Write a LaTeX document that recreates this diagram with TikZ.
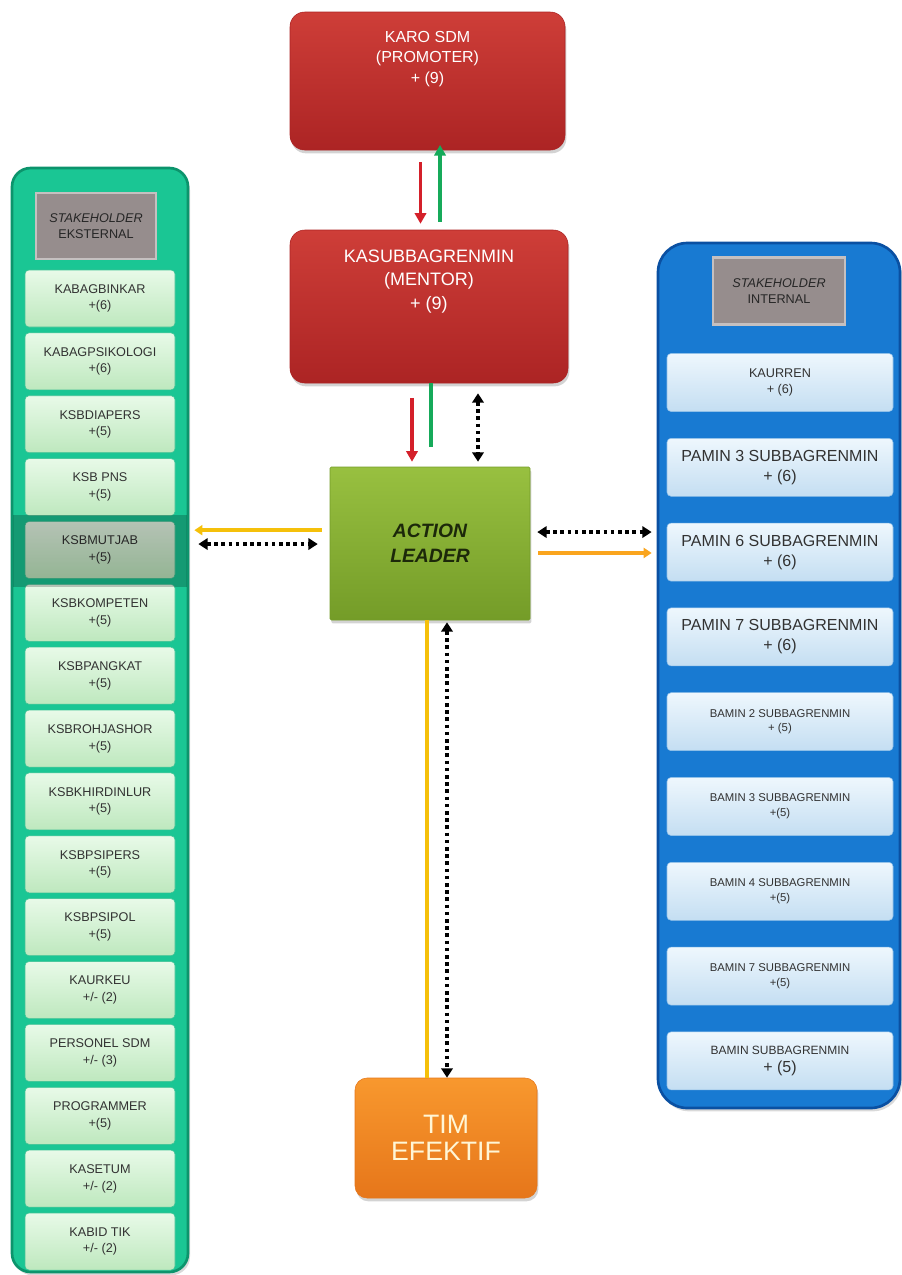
\documentclass[tikz,border=0pt]{standalone}
\usepackage{fontspec}
\setmainfont{Liberation Sans}
\usetikzlibrary{arrows.meta,positioning,calc,shadows}
\definecolor{boxred}{RGB}{206,62,56}
\definecolor{boxreddark}{RGB}{172,36,36}
\definecolor{leadgreen}{RGB}{152,192,64}
\definecolor{leadgreendark}{RGB}{116,156,40}
\definecolor{timorange}{RGB}{248,152,46}
\definecolor{timorangedark}{RGB}{230,118,26}
\definecolor{extteal}{RGB}{26,198,148}
\definecolor{exttealdark}{RGB}{12,148,108}
\definecolor{intblue}{RGB}{24,122,210}
\definecolor{intbluedark}{RGB}{10,80,162}
\definecolor{headgray}{RGB}{150,141,141}
\definecolor{extlight}{RGB}{232,250,232}
\definecolor{extmid}{RGB}{190,232,190}
\definecolor{intlight}{RGB}{238,247,253}
\definecolor{intmid}{RGB}{196,222,242}
\definecolor{arrred}{RGB}{212,32,42}
\definecolor{arrgreen}{RGB}{22,170,90}
\definecolor{arryellow}{RGB}{245,192,10}
\definecolor{arrorange}{RGB}{250,165,30}
\definecolor{inktext}{RGB}{50,50,50}

\tikzset{
  topbox/.style={rectangle,rounded corners=11pt,top color=boxred,bottom color=boxreddark,draw=boxreddark,
    drop shadow={opacity=0.35,shadow xshift=1pt,shadow yshift=-2.5pt}},
  toplabel/.style={anchor=north,align=center,text=white},
  leadbox/.style={rectangle,rounded corners=1pt,top color=leadgreen,bottom color=leadgreendark,draw=leadgreendark,
    minimum width=150pt,minimum height=114.75pt,align=center,text={rgb,255:red,28;green,40;blue,10},
    font=\fontsize{14.5}{19}\selectfont\bfseries\itshape,
    drop shadow={opacity=0.35,shadow xshift=1pt,shadow yshift=-2.5pt}},
  timbox/.style={rectangle,rounded corners=9pt,top color=timorange,bottom color=timorangedark,draw=timorangedark,
    minimum width=136.5pt,minimum height=90pt,align=center,text={rgb,255:red,255;green,246;blue,214},
    font=\fontsize{20}{20}\selectfont,
    drop shadow={opacity=0.35,shadow xshift=1pt,shadow yshift=-2.5pt}},
  extpanelbox/.style={rectangle,rounded corners=14pt,fill=extteal,draw=exttealdark,line width=2pt,
    minimum width=132pt,minimum height=828pt,
    drop shadow={opacity=0.3,shadow xshift=1.5pt,shadow yshift=-2.5pt}},
  intpanelbox/.style={rectangle,rounded corners=22pt,fill=intblue,draw=intbluedark,line width=2pt,
    minimum width=181.5pt,minimum height=648.75pt,
    drop shadow={opacity=0.3,shadow xshift=1.5pt,shadow yshift=-2.5pt}},
  headbox/.style={rectangle,fill=headgray,draw=headgray!55!white,line width=2pt,align=center,text=black!85,
    font=\fontsize{9.5}{12}\selectfont},
  extbox/.style={rectangle,rounded corners=3pt,top color=extlight,bottom color=extmid,draw=extmid!80!black!30!extteal,
    minimum width=112.5pt,minimum height=42.75pt,align=center,text=inktext,inner sep=1pt,
    font=\fontsize{9.5}{12.5}\selectfont},
  intbox/.style={rectangle,rounded corners=3pt,top color=intlight,bottom color=intmid,draw=intmid!70!intblue,
    minimum width=169.5pt,minimum height=43.5pt,align=center,text=inktext,inner sep=1pt,
    font=\fontsize{9.5}{12.5}\selectfont},
  pamin/.style={font=\fontsize{12}{15}\selectfont},
  bamin/.style={font=\fontsize{8.5}{11}\selectfont},
  redarrow/.style={arrred,line width=2.7pt,-{Triangle[length=8pt,width=8.5pt]}},
  greenarrow/.style={arrgreen,line width=2.7pt,-{Triangle[length=8pt,width=8.5pt]}},
  yelarrow/.style={arryellow,line width=2.6pt,-{Triangle[length=6pt,width=7.5pt]}},
  orgarrow/.style={arrorange,line width=2.6pt,-{Triangle[length=6pt,width=7.5pt]}},
  dotarrow/.style={black,line width=2.7pt,dash pattern=on 2.7pt off 2.7pt,
    {Triangle[length=7pt,width=8.5pt]}-{Triangle[length=7pt,width=8.5pt]}}
}

\begin{document}
\begin{tikzpicture}[x=0.75pt,y=-0.75pt]
\useasboundingbox (0,0) rectangle (901,1275);

% stakeholder eksternal
\node[extpanelbox] (extpanel) at (100,720) {};
\node[headbox,minimum width=90pt,minimum height=49.5pt] (exthead) at (96,226) {\textit{STAKEHOLDER}\\EKSTERNAL};
\node[extbox] (e1) at (100,298.5) {KABAGBINKAR\\+(6)};
\node[extbox,below=4pt of e1] (e2) {KABAGPSIKOLOGI\\+(6)};
\node[extbox,below=4pt of e2] (e3) {KSBDIAPERS\\+(5)};
\node[extbox,below=4pt of e3] (e4) {KSB PNS\\+(5)};
\node[extbox,below=4pt of e4] (e5) {KSBMUTJAB\\+(5)};
\node[extbox,below=4pt of e5] (e6) {KSBKOMPETEN\\+(5)};
\node[extbox,below=4pt of e6] (e7) {KSBPANGKAT\\+(5)};
\node[extbox,below=4pt of e7] (e8) {KSBROHJASHOR\\+(5)};
\node[extbox,below=4pt of e8] (e9) {KSBKHIRDINLUR\\+(5)};
\node[extbox,below=4pt of e9] (e10) {KSBPSIPERS\\+(5)};
\node[extbox,below=4pt of e10] (e11) {KSBPSIPOL\\+(5)};
\node[extbox,below=4pt of e11] (e12) {KAURKEU\\+/- (2)};
\node[extbox,below=4pt of e12] (e13) {PERSONEL SDM\\+/- (3)};
\node[extbox,below=4pt of e13] (e14) {PROGRAMMER\\+(5)};
\node[extbox,below=4pt of e14] (e15) {KASETUM\\+/- (2)};
\node[extbox,below=4pt of e15] (e16) {KABID TIK\\+/- (2)};
\fill[black,opacity=0.22] ($(e5.north west)+(-9pt,5pt)$) rectangle ($(e5.south east)+(9pt,-6pt)$);

% stakeholder internal
\node[intpanelbox] (intpanel) at (779,675.5) {};
\node[headbox,minimum width=99pt,minimum height=50.25pt] (inthead) at (779,291) {\textit{STAKEHOLDER}\\INTERNAL};
\node[intbox] (i1) at (780,382.5) {KAURREN\\+ (6)};
\node[intbox,pamin,below=19.7pt of i1] (i2) {PAMIN 3 SUBBAGRENMIN\\+ (6)};
\node[intbox,pamin,below=19.7pt of i2] (i3) {PAMIN 6 SUBBAGRENMIN\\+ (6)};
\node[intbox,pamin,below=19.7pt of i3] (i4) {PAMIN 7 SUBBAGRENMIN\\+ (6)};
\node[intbox,bamin,below=19.7pt of i4] (i5) {BAMIN 2 SUBBAGRENMIN\\+ (5)};
\node[intbox,bamin,below=19.7pt of i5] (i6) {BAMIN 3 SUBBAGRENMIN\\+(5)};
\node[intbox,bamin,below=19.7pt of i6] (i7) {BAMIN 4 SUBBAGRENMIN\\+(5)};
\node[intbox,bamin,below=19.7pt of i7] (i8) {BAMIN 7 SUBBAGRENMIN\\+(5)};
\node[intbox,font=\fontsize{9}{13}\selectfont,below=19.7pt of i8] (i9) {BAMIN SUBBAGRENMIN\\{\fontsize{12}{13}\selectfont + (5)}};

% centre column
\node[topbox,minimum width=206.25pt,minimum height=103.5pt,
  label={[toplabel,yshift=-11pt,font=\fontsize{12}{15.5}\selectfont]north:KARO SDM\\(PROMOTER)\\+ (9)}] (karo) at (427.5,81) {};
\node[topbox,minimum width=208.5pt,minimum height=114.75pt,
  label={[toplabel,yshift=-11.5pt,font=\fontsize{13.5}{17.5}\selectfont]north:KASUBBAGRENMIN\\(MENTOR)\\+ (9)}] (kasub) at (429,306.5) {};
\node[leadbox] (act) at (430,543.5) {ACTION\\LEADER};
\node[timbox] (tim) at (446,1138) {TIM\\EFEKTIF};

% connectors
\draw[redarrow] ($(karo.south)+(-5.25pt,-9pt)$) -- ($(karo.south |- kasub.north)+(-5.25pt,4.5pt)$);
\draw[greenarrow] ($(karo.south |- kasub.north)+(9.4pt,6pt)$) -- ($(karo.south)+(9.4pt,4pt)$);
\draw[redarrow] ($(act.north |- kasub.south)+(-13.5pt,-11pt)$) -- ($(act.north)+(-13.5pt,3.75pt)$);
\draw[arrgreen,line width=2.7pt] ($(act.north |- kasub.south)+(0.75pt,0)$) -- ($(act.north)+(0.75pt,15pt)$);
\draw[dotarrow] ($(act.north |- kasub.south)+(36pt,-7.5pt)$) -- ($(act.north)+(36pt,3.75pt)$);
\draw[yelarrow] ($(act.west)+(-6pt,10pt)$) -- ($(act.west -| extpanel.east)+(3.75pt,10pt)$);
\draw[dotarrow] ($(act.west -| extpanel.east)+(6.75pt,-0.4pt)$) -- ($(act.west)+(-9pt,-0.4pt)$);
\draw[dotarrow] ($(act.east)+(5.25pt,8.6pt)$) -- ($(act.east -| intpanel.west)+(-3.75pt,8.6pt)$);
\draw[orgarrow] ($(act.east)+(6pt,-7.1pt)$) -- ($(act.east -| intpanel.west)+(-3.75pt,-7.1pt)$);
\draw[arryellow,line width=2.6pt] ($(act.south)+(-2.25pt,0)$) -- ($(act.south |- tim.north)+(-2.25pt,0)$);
\draw[dotarrow] ($(act.south)+(12.75pt,-1.5pt)$) -- ($(act.south |- tim.north)+(12.75pt,0)$);
\end{tikzpicture}
\end{document}
